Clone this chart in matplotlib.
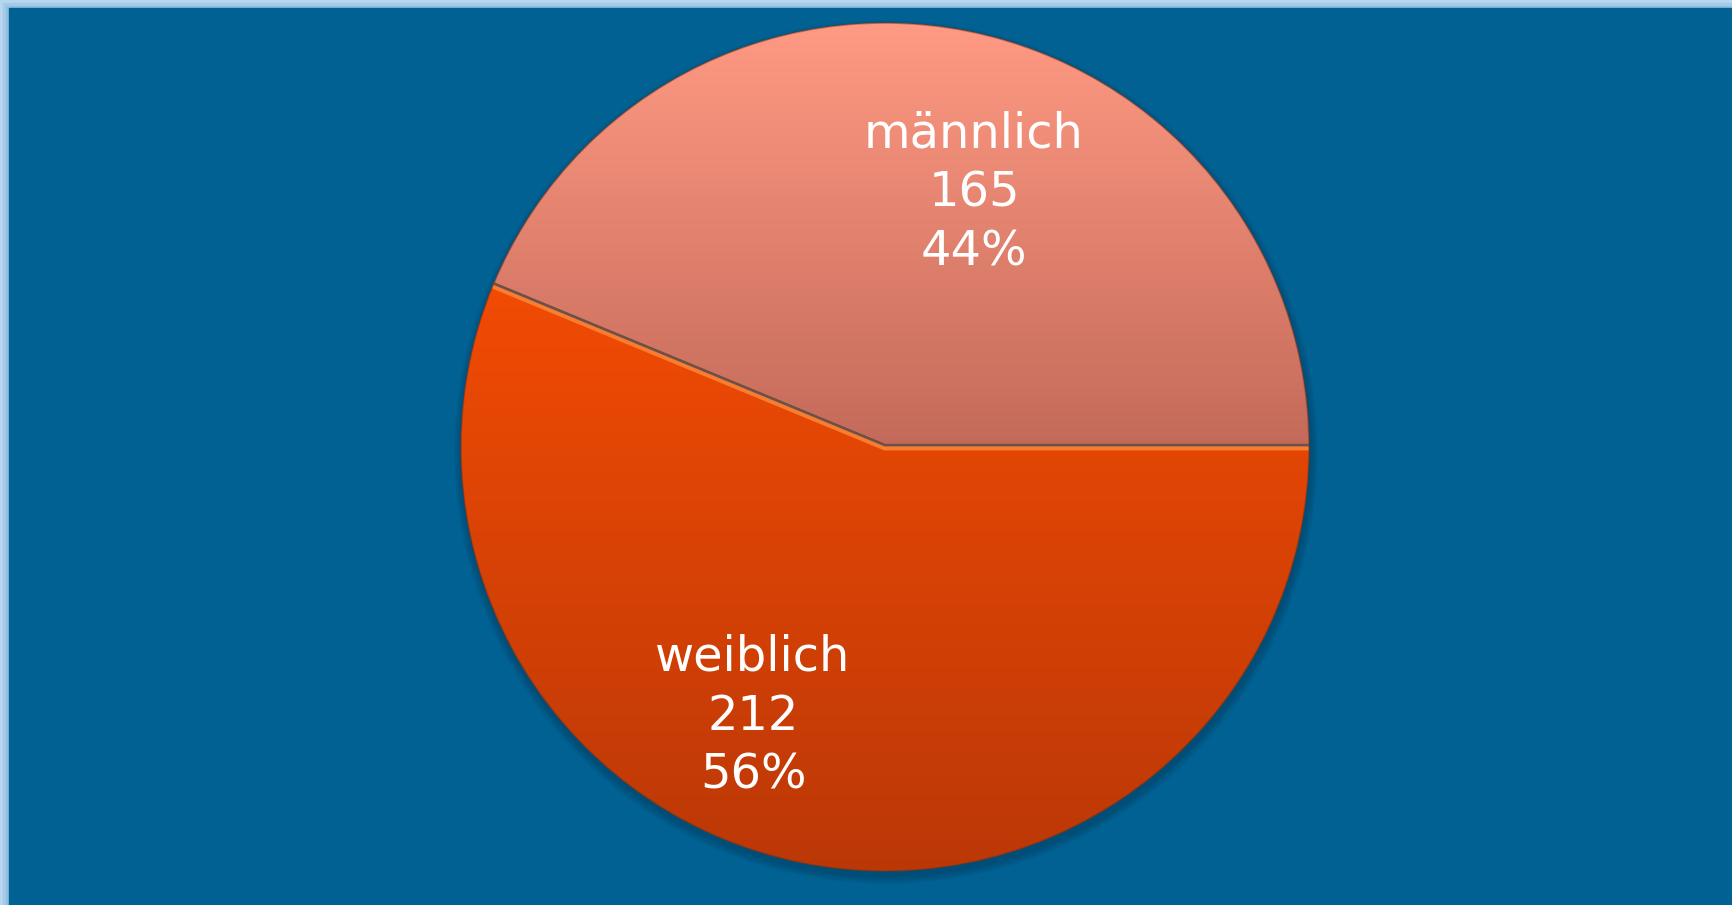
import numpy as np
import matplotlib.pyplot as plt
from matplotlib.patches import Rectangle, Circle
from matplotlib.colors import LinearSegmentedColormap

labels = ['männlich', 'weiblich']
counts = [165, 212]
top_colors = ['#ff9a83', '#f24b04']
bottom_colors = ['#c46a5a', '#bb3807']

W, H = 1732, 905
fig = plt.figure(figsize=(W / 100, H / 100), dpi=100)
fig.patch.set_facecolor('#a9cdea')
ax = fig.add_axes([0, 0, 1, 1])
ax.set_xlim(0, W)
ax.set_ylim(0, H)
ax.set_aspect('equal')
ax.axis('off')

# light frame on top / left, dark blue panel
for i, c in enumerate(['#b7d6ef', '#a6cbe8', '#93bfe2']):
    ax.add_patch(Rectangle((3 * i, 0), W, H - 3 * i, color=c, zorder=0))
ax.add_patch(Rectangle((9, 0), W, H - 8, color='#006192', zorder=1))

cx, cy, r = 885, 458, 424

# soft shadow under the pie
for k in range(8):
    ax.add_patch(Circle((cx + 1, cy - 5), r + 8 - k, color='#00273d',
                        alpha=0.04, lw=0, zorder=2))

wedges, _ = ax.pie(counts, startangle=0, counterclock=True, radius=r,
                   center=(cx, cy), frame=True,
                   wedgeprops=dict(linewidth=0, zorder=3))
ax.set_xlim(0, W)
ax.set_ylim(0, H)
ax.axis('off')

# vertical gradient fill clipped to each wedge
for w, c0, c1 in zip(wedges, top_colors, bottom_colors):
    cmap = LinearSegmentedColormap.from_list('g', [c1, c0])
    if w.theta1 == 0:
        ymax = cy + r
        ymin = cy
    else:
        ymax = cy + r * np.sin(np.radians(w.theta1))
        ymin = cy - r
    grad = np.linspace(0, 1, 256).reshape(-1, 1)
    im = ax.imshow(grad, cmap=cmap, extent=(cx - r, cx + r, ymin, ymax),
                   origin='lower', aspect='auto', zorder=4)
    im.set_clip_path(w)
    w.set_facecolor('none')

# bevel line along the boundary between the slices
t = np.radians(wedges[0].theta2)
ex, ey = cx + r * np.cos(t), cy + r * np.sin(t)
ax.plot([ex, cx, cx + r], [ey, cy, cy], color='#ff8a3a', lw=5,
        zorder=5, solid_capstyle='butt', alpha=0.8)
ax.plot([ex, cx, cx + r], [ey + 2, cy + 2, cy + 2], color='#6e4f4a', lw=2,
        zorder=5, solid_capstyle='butt')
ax.add_patch(Circle((cx, cy), r, fill=False, ec='#8a3010', lw=1.2,
                    alpha=0.45, zorder=5))

total = sum(counts)
label_pos = [(974, H - 193), (753, H - 716)]
for lab, n, (x, y) in zip(labels, counts, label_pos):
    ax.text(x, y, f'{lab}\n{n}\n{round(100 * n / total)}%', color='white',
            fontsize=34.5, ha='center', va='center', linespacing=1.32,
            family='DejaVu Sans', zorder=6)

fig.savefig('out.png', dpi=100)
